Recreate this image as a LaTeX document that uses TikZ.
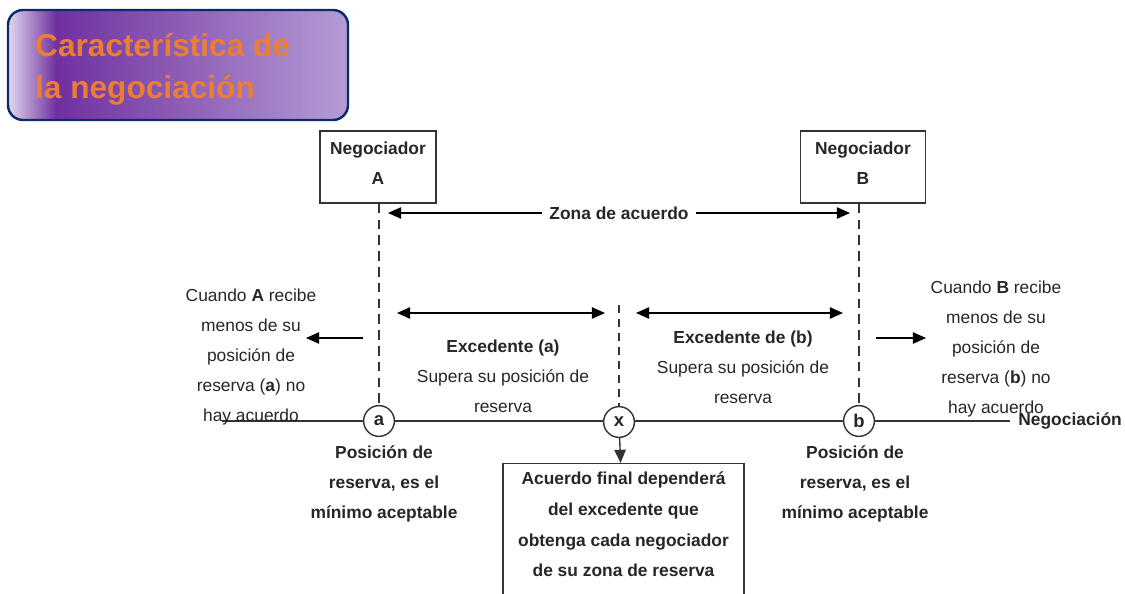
\documentclass[tikz,border=0pt]{standalone}
\usepackage{fontspec}
\setmainfont{Liberation Sans}
\usetikzlibrary{arrows.meta}
\definecolor{naranja}{HTML}{ED7D31}
\definecolor{marco}{HTML}{0B2C6B}
\definecolor{morado}{HTML}{7030A0}
\definecolor{lila}{HTML}{B59BD4}
\definecolor{lilaclaro}{HTML}{E2D8EE}
\definecolor{linea}{HTML}{333333}
\begin{document}
\begin{tikzpicture}[x=0.02cm,y=-0.02cm,
    every node/.style={font=\fontsize{9.9}{17}\selectfont, text=black!85},
    caja/.style={draw=linea, line width=0.8pt},
    punto/.style={draw=linea, circle, line width=0.8pt, fill=white, minimum size=17.5pt, inner sep=0pt, font=\bfseries\fontsize{10.5}{12}\selectfont},
    texto/.style={align=center},
    negrita/.style={align=center, font=\bfseries\fontsize{9.9}{17}\selectfont},
    flecha/.style={-{Triangle[length=7.5pt,width=6.5pt]}, line width=0.8pt},
    doble/.style={{Triangle[length=7.5pt,width=6.5pt]}-{Triangle[length=7.5pt,width=6.5pt]}, line width=0.8pt},
    guion/.style={line width=1.5pt, dash pattern=on 5.5pt off 3.5pt}]
  \clip (0,0) rectangle (1125,594);
  % titulo
  \begin{scope}
    \clip[rounded corners=8.5pt] (8,10) rectangle (348,120);
    \shade[left color=morado, right color=lila] (55,10) rectangle (348,120);
    \shade[left color=lilaclaro, right color=morado] (8,10) rectangle (56,120);
  \end{scope}
  \draw[marco, line width=1.4pt, rounded corners=8.5pt] (8,10) rectangle (348,120);
  \node (titulo) [anchor=west, align=left, text=naranja, font=\bfseries\fontsize{18}{24}\selectfont] at (29,69) {Característica de\\la negociación};
  % negociadores
  \node (A) [caja, minimum width=2.32cm, minimum height=1.44cm] at (378,167) {};
  \node (B) [caja, minimum width=2.5cm, minimum height=1.44cm] at (863,167) {};
  \node (txtA) [negrita] at (A.center) [yshift=0.08cm] {Negociador\\A};
  \node (txtB) [negrita] at (B.center) [yshift=0.08cm] {Negociador\\B};
  % eje de negociacion
  \coordinate (ini) at (222,421);
  \coordinate (fin) at (1010,421);
  \node (neg) [anchor=west, font=\bfseries\fontsize{9.9}{12}\selectfont, inner sep=0pt] at (1018,421) {Negociación};
  \draw[linea, line width=0.8pt] (ini) -- (fin);
  \node (a) [punto] at (379,421) {a};
  \node (x) [punto] at (619,422) {x};
  \node (b) [punto] at (859,421) {b};
  \coordinate (xtop) at (619,305);
  \begin{scope}[linea]
    \draw[guion] (A.south -| a) -- (a);
    \draw[guion] (B.south -| b) -- (b);
    \draw[line width=1.1pt, dash pattern=on 4.5pt off 3.5pt] (xtop) -- (x);
  \end{scope}
  % zona de acuerdo
  \coordinate (za1) at (388,213);
  \coordinate (za2) at (850,213);
  \draw[doble] (za1) -- (za2)
    node (zona) [midway, fill=white, inner xsep=4pt, font=\bfseries\fontsize{9.9}{12}\selectfont] {Zona de acuerdo};
  % excedentes
  \coordinate (ea1) at (397,313);
  \coordinate (ea2) at (605,313);
  \coordinate (eb1) at (636,313);
  \coordinate (eb2) at (843,313);
  \draw[doble] (ea1) -- (ea2);
  \draw[doble] (eb1) -- (eb2);
  \node (exa) [texto] at (503,376) {\textbf{Excedente (a)}\\Supera su posición de\\reserva};
  \node (exb) [texto] at (743,367) {\textbf{Excedente de (b)}\\Supera su posición de\\reserva};
  % fuera de la zona
  \coordinate (fa1) at (363,338);
  \coordinate (fa2) at (306,338);
  \coordinate (fb1) at (876,338);
  \coordinate (fb2) at (926,338);
  \draw[flecha] (fa1) -- (fa2);
  \draw[flecha] (fb1) -- (fb2);
  \node (sinA) [texto] at (251,357) {Cuando \textbf{A} recibe\\menos de su\\posición de\\reserva (\textbf{a}) no\\hay acuerdo};
  \node (sinB) [texto] at (996,349) {Cuando \textbf{B} recibe\\menos de su\\posición de\\reserva (\textbf{b}) no\\hay acuerdo};
  % posiciones de reserva
  \node (resA) [negrita] at (384,484) {Posición de\\reserva, es el\\mínimo aceptable};
  \node (resB) [negrita] at (855,484) {Posición de\\reserva, es el\\mínimo aceptable};
  % acuerdo final
  \node (final) [caja, anchor=north, minimum width=4.82cm, minimum height=3cm] at (623.5,463) {};
  \node (txtfinal) [anchor=north, align=center, font=\bfseries\fontsize{9.9}{17.4}\selectfont] at (623.5,466) {Acuerdo final dependerá\\del excedente que\\obtenga cada negociador\\de su zona de reserva};
  \draw[flecha, linea] (x) -- (final);
\end{tikzpicture}
\end{document}
